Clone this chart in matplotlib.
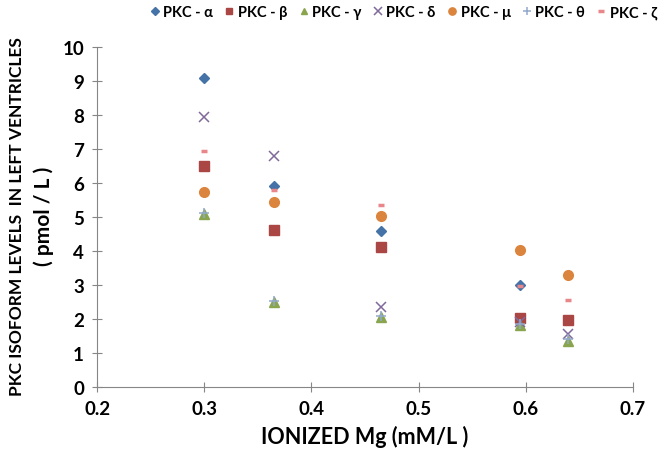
import matplotlib
matplotlib.use("Agg")
import matplotlib.pyplot as plt

plt.rcParams['font.family'] = ['Lato', 'DejaVu Sans']

mg = [0.30, 0.365, 0.465, 0.595, 0.64]

pkc_alpha = [9.08, 5.90, 4.58, 3.00, 1.95]
pkc_beta = [6.50, 4.62, 4.10, 2.02, 1.95]
pkc_gamma = [5.08, 2.50, 2.05, 1.82, 1.35]
pkc_delta = [7.95, 6.80, 2.35, 1.90, 1.55]
pkc_mu = [5.73, 5.45, 5.02, 4.03, 3.28]
pkc_theta = [5.12, 2.52, 2.08, 1.85, 1.40]
pkc_zeta = [6.93, 5.80, 5.35, 2.95, 2.55]

labels = ['PKC - α', 'PKC - β', 'PKC - γ', 'PKC - δ', 'PKC - μ', 'PKC - θ', 'PKC - ζ']

fig = plt.figure(figsize=(6.66, 4.6), dpi=100)
ax = fig.add_axes([0.146, 0.157, 0.804, 0.739])

ax.plot(mg, pkc_alpha, 'D', color='#4572A7', ms=5, label=labels[0])
ax.plot(mg, pkc_beta, 's', color='#AA4643', ms=6.5, label=labels[1])
ax.plot(mg, pkc_gamma, '^', color='#89A54E', ms=6.5, label=labels[2])
ax.plot(mg, pkc_delta, 'x', color='#80699B', ms=7, mew=1.1, label=labels[3])
ax.plot(mg, pkc_mu, 'o', color='#DB843D', ms=7, label=labels[4])
ax.plot(mg, pkc_theta, '+', color='#92A8CD', ms=7, mew=1.1, label=labels[5])
ax.plot(mg, pkc_zeta, '_', color='#E8868A', ms=5, mew=2.5, label=labels[6])

ax.set_xlim(0.2, 0.7)
ax.set_ylim(0, 10)
ax.set_xticks([0.2, 0.3, 0.4, 0.5, 0.6, 0.7])
ax.set_yticks(range(0, 11))

for s in ['top', 'right']:
    ax.spines[s].set_visible(False)
for s in ['left', 'bottom']:
    ax.spines[s].set_color('#868686')
ax.tick_params(direction='inout', length=7, color='#868686', labelsize=13.5, pad=6)
for t in ax.get_xticklabels() + ax.get_yticklabels():
    t.set_fontweight('bold')

ax.set_xlabel('IONIZED Mg (mM/L )', fontsize=15.5, fontweight='bold', labelpad=6)
fig.text(0.025, 0.53, 'PKC ISOFORM LEVELS  IN LEFT VENTRICLES', rotation=90,
         fontsize=12.5, fontweight='bold', ha='center', va='center')
fig.text(0.065, 0.53, '( pmol / L )', rotation=90,
         fontsize=15, fontweight='bold', ha='center', va='center')

fig.legend(loc='upper right', bbox_to_anchor=(1.0, 1.005), ncol=7, frameon=False,
           prop={'weight': 'bold', 'size': 10.5}, handletextpad=0.1, columnspacing=0.6,
           handlelength=1.0, markerscale=0.75, borderaxespad=0.2)

fig.savefig('out.png', dpi=100)
